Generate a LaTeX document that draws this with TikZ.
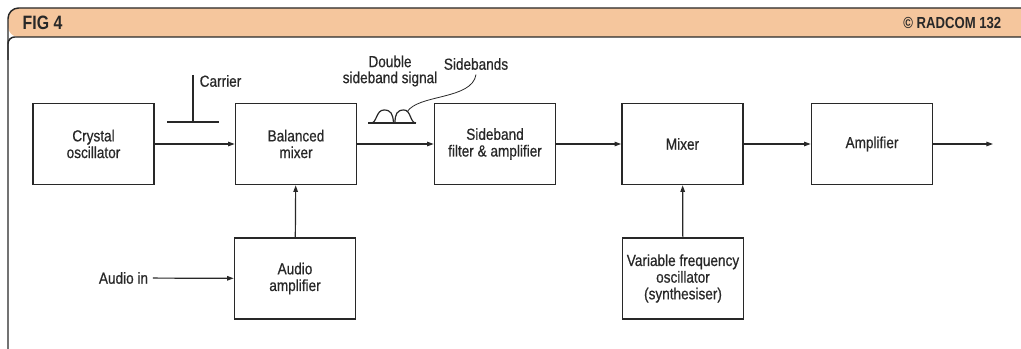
\documentclass[tikz,border=0pt]{standalone}
\usepackage{fontspec}
\setmainfont{Liberation Sans}[FakeStretch=0.85,FakeBold=0.6]
\newfontfamily\hdrfont{Liberation Sans}[FakeStretch=0.82]
\usepackage{tikz}
\usetikzlibrary{arrows.meta}
\definecolor{peach}{RGB}{245,198,157}
\definecolor{ink}{RGB}{40,40,40}

\begin{document}
\begin{tikzpicture}[x=0.75pt,y=-0.75pt,
  box/.style={draw=ink,line width=1.2pt,minimum width=90.75pt,minimum height=60.75pt,align=center,text=ink,font=\fontsize{12}{12.5}\selectfont},
  lbl/.style={text=ink,align=center,font=\fontsize{12}{12}\selectfont},
  sig/.style={ink,line width=0.9pt,-{Triangle[length=5pt,width=3.4pt]}},
  frame/.style={ink,line width=1.1pt}]
\useasboundingbox (0,0) rectangle (1021,349);
\fill[peach,rounded corners=8] (8,37)--(8,8)--(1030,8)--(1030,37)--cycle;
\draw[frame,rounded corners=8] (8,360)--(8,8)--(1030,8);
\draw[frame,rounded corners=5] (1030,37)--(8,37)--(8,60);
\node[text=ink,anchor=west,font=\hdrfont\bfseries\fontsize{14.5}{15}\selectfont] (fig) at (18,23) {FIG 4};
\node[text=ink,anchor=east,font=\hdrfont\bfseries\fontsize{12}{12}\selectfont] (src) at (1006,23) {\textcopyright{} RADCOM 132};

\node[box] (xtal) at (93.5,144) {Crystal\\oscillator};
\node[box] (balmix) at (296,144) {Balanced\\mixer};
\node[box] (sbfilt) at (495,144) {Sideband\\filter \& amplifier};
\node[box] (mixer) at (682.5,144) {Mixer};
\node[box] (amp) at (872,144) {Amplifier};
\node[box] (audamp) at (295,278.5) {Audio\\amplifier};
\node[box] (vfo) at (683,278.5) {Variable frequency\\oscillator\\(synthesiser)};
\node[lbl] (audin) at (123.5,278) {Audio in};
\coordinate (out) at (993,144);

\draw[sig] (xtal) -- (balmix);
\draw[sig] (balmix) -- (sbfilt);
\draw[sig] (sbfilt) -- (mixer);
\draw[sig] (mixer) -- (amp);
\draw[sig] (amp) -- (out);
\draw[sig] (audamp) -- (balmix);
\draw[sig] (vfo) -- (mixer);
\draw[sig] (audin) -- (audamp);

\node[lbl,anchor=west] (carrier) at (195,81) {Carrier};
\draw[ink,line width=1pt] (193,75)--(193,122);
\draw[ink,line width=1pt] (167,122)--(219,122);

\node[lbl] (dsb) at (390,71) {Double\\sideband signal};
\node[lbl] (sbands) at (476,64) {Sidebands};
\draw[ink,line width=1pt] (368,123)--(416,123);
\draw[ink,line width=0.9pt] (371,123) .. controls (377,123) and (376,110) .. (384,110) .. controls (391,110) and (393,114) .. (393.5,123);
\draw[ink,line width=0.9pt] (395,123) .. controls (395,114) and (397,110) .. (404,110) .. controls (411,110) and (410,123) .. (416,123);
\coordinate (hump) at (407,112);
\draw[ink,line width=0.6pt] (hump) .. controls (418,94) and (472,100) .. (sbands.south);
\end{tikzpicture}
\end{document}
